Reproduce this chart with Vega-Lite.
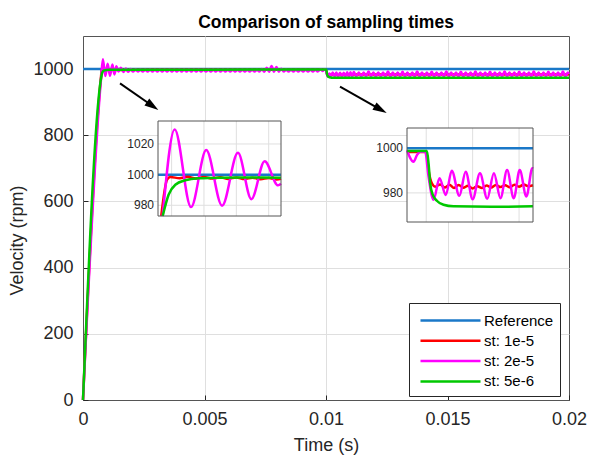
{
  "$schema": "https://vega.github.io/schema/vega-lite/v6.json",
  "width": 486,
  "height": 364,
  "autosize": {"type": "none"},
  "padding": {"left": 83, "top": 36, "right": 21, "bottom": 63},
  "background": "white",
  "config": {"font": "Liberation Sans", "view": {"stroke": "#555555", "strokeWidth": 1}},
  "title": {"text": "Comparison of sampling times", "fontSize": 17.5, "fontWeight": "bold", "color": "#000000", "anchor": "middle", "frame": "group", "offset": 5},
  "datasets": {
    "speed": [
      {"series": "Reference", "t": 0, "v": 1000},
      {"series": "Reference", "t": 0.000716, "v": 1000},
      {"series": "Reference", "t": 0.001476, "v": 1000},
      {"series": "Reference", "t": 0.009793, "v": 1000},
      {"series": "Reference", "t": 0.01115, "v": 1000},
      {"series": "Reference", "t": 0.02, "v": 1000},

      {"series": "st: 1e-5", "t": 0, "v": 0},
      {"series": "st: 1e-5", "t": 0.000736, "v": 973},
      {"series": "st: 1e-5", "t": 0.000772, "v": 996.7},
      {"series": "st: 1e-5", "t": 0.000792, "v": 998.5},
      {"series": "st: 1e-5", "t": 0.00085, "v": 997.6},
      {"series": "st: 1e-5", "t": 0.0009, "v": 998.6},
      {"series": "st: 1e-5", "t": 0.00095, "v": 997.5},
      {"series": "st: 1e-5", "t": 0.001, "v": 998.5},
      {"series": "st: 1e-5", "t": 0.00105, "v": 997.4},
      {"series": "st: 1e-5", "t": 0.0011, "v": 998.3},
      {"series": "st: 1e-5", "t": 0.00115, "v": 997.2},
      {"series": "st: 1e-5", "t": 0.0012, "v": 998.2},
      {"series": "st: 1e-5", "t": 0.00125, "v": 997.1},
      {"series": "st: 1e-5", "t": 0.0013, "v": 998.0},
      {"series": "st: 1e-5", "t": 0.00135, "v": 997.0},
      {"series": "st: 1e-5", "t": 0.0014, "v": 997.8},
      {"series": "st: 1e-5", "t": 0.00145, "v": 996.9},
      {"series": "st: 1e-5", "t": 0.001476, "v": 997.3},
      {"series": "st: 1e-5", "t": 0.005, "v": 998},
      {"series": "st: 1e-5", "t": 0.009793, "v": 998.3},
      {"series": "st: 1e-5", "t": 0.01, "v": 998.3},
      {"series": "st: 1e-5", "t": 0.010025, "v": 990.2},
      {"series": "st: 1e-5", "t": 0.010061, "v": 984.3},
      {"series": "st: 1e-5", "t": 0.010096, "v": 982.8},
      {"series": "st: 1e-5", "t": 0.01015, "v": 983.8},
      {"series": "st: 1e-5", "t": 0.0102, "v": 982.4},
      {"series": "st: 1e-5", "t": 0.01025, "v": 983.6},
      {"series": "st: 1e-5", "t": 0.0103, "v": 982.2},
      {"series": "st: 1e-5", "t": 0.01035, "v": 983.5},
      {"series": "st: 1e-5", "t": 0.0104, "v": 982.3},
      {"series": "st: 1e-5", "t": 0.01045, "v": 983.2},
      {"series": "st: 1e-5", "t": 0.0105, "v": 982.0},
      {"series": "st: 1e-5", "t": 0.01055, "v": 983.0},
      {"series": "st: 1e-5", "t": 0.0106, "v": 982.2},
      {"series": "st: 1e-5", "t": 0.01065, "v": 983.3},
      {"series": "st: 1e-5", "t": 0.0107, "v": 982.4},
      {"series": "st: 1e-5", "t": 0.01075, "v": 983.5},
      {"series": "st: 1e-5", "t": 0.0108, "v": 982.6},
      {"series": "st: 1e-5", "t": 0.01085, "v": 983.4},
      {"series": "st: 1e-5", "t": 0.0109, "v": 982.5},
      {"series": "st: 1e-5", "t": 0.01095, "v": 983.6},
      {"series": "st: 1e-5", "t": 0.011, "v": 982.8},
      {"series": "st: 1e-5", "t": 0.01105, "v": 983.7},
      {"series": "st: 1e-5", "t": 0.0111, "v": 983.0},
      {"series": "st: 1e-5", "t": 0.01115, "v": 983.4},
      {"series": "st: 1e-5", "t": 0.02, "v": 983.4},

      {"series": "st: 2e-5", "t": 0, "v": 0},
      {"series": "st: 2e-5", "t": 0.000745, "v": 973},
      {"series": "st: 2e-5", "t": 0.000819, "v": 1029.5},
      {"series": "st: 2e-5", "t": 0.00092, "v": 978.8},
      {"series": "st: 2e-5", "t": 0.001014, "v": 1016},
      {"series": "st: 2e-5", "t": 0.001112, "v": 979.7},
      {"series": "st: 2e-5", "t": 0.00121, "v": 1014.2},
      {"series": "st: 2e-5", "t": 0.001293, "v": 984},
      {"series": "st: 2e-5", "t": 0.001375, "v": 1008.7},
      {"series": "st: 2e-5", "t": 0.001458, "v": 993},
      {"series": "st: 2e-5", "t": 0.001476, "v": 994},
      {"series": "st: 2e-5", "t": 0.00156, "v": 1004},
      {"series": "st: 2e-5", "t": 0.00166, "v": 991},
      {"series": "st: 2e-5", "t": 0.00176, "v": 1002},
      {"series": "st: 2e-5", "t": 0.00186, "v": 992},
      {"series": "st: 2e-5", "t": 0.00196, "v": 1000.5},
      {"series": "st: 2e-5", "t": 0.00206, "v": 992.5},
      {"series": "st: 2e-5", "t": 0.00216, "v": 999},
      {"series": "st: 2e-5", "t": 0.00226, "v": 993},
      {"series": "st: 2e-5", "t": 0.00236, "v": 998},
      {"series": "st: 2e-5", "t": 0.00246, "v": 993},
      {"series": "st: 2e-5", "t": 0.00256, "v": 998},
      {"series": "st: 2e-5", "t": 0.00266, "v": 993},
      {"series": "st: 2e-5", "t": 0.00276, "v": 998},
      {"series": "st: 2e-5", "t": 0.00286, "v": 993},
      {"series": "st: 2e-5", "t": 0.00296, "v": 998},
      {"series": "st: 2e-5", "t": 0.00306, "v": 993},
      {"series": "st: 2e-5", "t": 0.00316, "v": 998},
      {"series": "st: 2e-5", "t": 0.00326, "v": 993},
      {"series": "st: 2e-5", "t": 0.00336, "v": 998},
      {"series": "st: 2e-5", "t": 0.00346, "v": 993},
      {"series": "st: 2e-5", "t": 0.00356, "v": 998},
      {"series": "st: 2e-5", "t": 0.00366, "v": 993},
      {"series": "st: 2e-5", "t": 0.00376, "v": 998},
      {"series": "st: 2e-5", "t": 0.00386, "v": 993},
      {"series": "st: 2e-5", "t": 0.00396, "v": 998},
      {"series": "st: 2e-5", "t": 0.00406, "v": 993},
      {"series": "st: 2e-5", "t": 0.00416, "v": 998},
      {"series": "st: 2e-5", "t": 0.00426, "v": 993},
      {"series": "st: 2e-5", "t": 0.00436, "v": 998},
      {"series": "st: 2e-5", "t": 0.00446, "v": 993},
      {"series": "st: 2e-5", "t": 0.00456, "v": 998},
      {"series": "st: 2e-5", "t": 0.00466, "v": 993},
      {"series": "st: 2e-5", "t": 0.00476, "v": 998},
      {"series": "st: 2e-5", "t": 0.00486, "v": 993},
      {"series": "st: 2e-5", "t": 0.00496, "v": 998},
      {"series": "st: 2e-5", "t": 0.00506, "v": 993},
      {"series": "st: 2e-5", "t": 0.00516, "v": 998},
      {"series": "st: 2e-5", "t": 0.00526, "v": 993},
      {"series": "st: 2e-5", "t": 0.00536, "v": 998},
      {"series": "st: 2e-5", "t": 0.00546, "v": 993},
      {"series": "st: 2e-5", "t": 0.00556, "v": 998},
      {"series": "st: 2e-5", "t": 0.00566, "v": 993},
      {"series": "st: 2e-5", "t": 0.00576, "v": 998},
      {"series": "st: 2e-5", "t": 0.00586, "v": 993},
      {"series": "st: 2e-5", "t": 0.00596, "v": 998},
      {"series": "st: 2e-5", "t": 0.00606, "v": 993},
      {"series": "st: 2e-5", "t": 0.00616, "v": 998},
      {"series": "st: 2e-5", "t": 0.00626, "v": 993},
      {"series": "st: 2e-5", "t": 0.00636, "v": 998},
      {"series": "st: 2e-5", "t": 0.00646, "v": 993},
      {"series": "st: 2e-5", "t": 0.00656, "v": 998},
      {"series": "st: 2e-5", "t": 0.00666, "v": 993},
      {"series": "st: 2e-5", "t": 0.00676, "v": 998},
      {"series": "st: 2e-5", "t": 0.00686, "v": 993},
      {"series": "st: 2e-5", "t": 0.00696, "v": 998},
      {"series": "st: 2e-5", "t": 0.00706, "v": 993},
      {"series": "st: 2e-5", "t": 0.00716, "v": 998},
      {"series": "st: 2e-5", "t": 0.00726, "v": 993},
      {"series": "st: 2e-5", "t": 0.00736, "v": 1000},
      {"series": "st: 2e-5", "t": 0.00746, "v": 992},
      {"series": "st: 2e-5", "t": 0.00756, "v": 1004},
      {"series": "st: 2e-5", "t": 0.00766, "v": 992},
      {"series": "st: 2e-5", "t": 0.00776, "v": 1009},
      {"series": "st: 2e-5", "t": 0.00786, "v": 992},
      {"series": "st: 2e-5", "t": 0.00796, "v": 1006},
      {"series": "st: 2e-5", "t": 0.00806, "v": 992},
      {"series": "st: 2e-5", "t": 0.00816, "v": 1001},
      {"series": "st: 2e-5", "t": 0.00826, "v": 993},
      {"series": "st: 2e-5", "t": 0.00836, "v": 998},
      {"series": "st: 2e-5", "t": 0.00846, "v": 993},
      {"series": "st: 2e-5", "t": 0.00856, "v": 998},
      {"series": "st: 2e-5", "t": 0.00866, "v": 993},
      {"series": "st: 2e-5", "t": 0.00876, "v": 998},
      {"series": "st: 2e-5", "t": 0.00886, "v": 993},
      {"series": "st: 2e-5", "t": 0.00896, "v": 998},
      {"series": "st: 2e-5", "t": 0.00906, "v": 993},
      {"series": "st: 2e-5", "t": 0.00916, "v": 998},
      {"series": "st: 2e-5", "t": 0.00926, "v": 993},
      {"series": "st: 2e-5", "t": 0.00936, "v": 998},
      {"series": "st: 2e-5", "t": 0.00946, "v": 993},
      {"series": "st: 2e-5", "t": 0.00956, "v": 998},
      {"series": "st: 2e-5", "t": 0.00966, "v": 993},
      {"series": "st: 2e-5", "t": 0.00976, "v": 998.5},
      {"series": "st: 2e-5", "t": 0.009793, "v": 999},
      {"series": "st: 2e-5", "t": 0.009864, "v": 993.9},
      {"series": "st: 2e-5", "t": 0.0099, "v": 996.9},
      {"series": "st: 2e-5", "t": 0.009936, "v": 998.4},
      {"series": "st: 2e-5", "t": 0.009989, "v": 998.4},
      {"series": "st: 2e-5", "t": 0.010025, "v": 987.3},
      {"series": "st: 2e-5", "t": 0.010079, "v": 976.9},
      {"series": "st: 2e-5", "t": 0.010143, "v": 986.5},
      {"series": "st: 2e-5", "t": 0.010211, "v": 979.1},
      {"series": "st: 2e-5", "t": 0.010275, "v": 989.9},
      {"series": "st: 2e-5", "t": 0.010357, "v": 978.7},
      {"series": "st: 2e-5", "t": 0.010425, "v": 989.5},
      {"series": "st: 2e-5", "t": 0.0105, "v": 977.2},
      {"series": "st: 2e-5", "t": 0.010579, "v": 988.8},
      {"series": "st: 2e-5", "t": 0.010657, "v": 977.4},
      {"series": "st: 2e-5", "t": 0.010729, "v": 988.8},
      {"series": "st: 2e-5", "t": 0.0108, "v": 977.6},
      {"series": "st: 2e-5", "t": 0.010871, "v": 990.2},
      {"series": "st: 2e-5", "t": 0.010943, "v": 977.6},
      {"series": "st: 2e-5", "t": 0.011007, "v": 990.2},
      {"series": "st: 2e-5", "t": 0.011079, "v": 978.4},
      {"series": "st: 2e-5", "t": 0.011143, "v": 991},
      {"series": "st: 2e-5", "t": 0.01115, "v": 990.8},
      {"series": "st: 2e-5", "t": 0.01125, "v": 978},
      {"series": "st: 2e-5", "t": 0.01135, "v": 990},
      {"series": "st: 2e-5", "t": 0.01145, "v": 977.5},
      {"series": "st: 2e-5", "t": 0.01155, "v": 989.5},
      {"series": "st: 2e-5", "t": 0.01165, "v": 978},
      {"series": "st: 2e-5", "t": 0.01175, "v": 993},
      {"series": "st: 2e-5", "t": 0.01185, "v": 978},
      {"series": "st: 2e-5", "t": 0.01195, "v": 990},
      {"series": "st: 2e-5", "t": 0.01205, "v": 977.5},
      {"series": "st: 2e-5", "t": 0.01215, "v": 990},
      {"series": "st: 2e-5", "t": 0.01225, "v": 978},
      {"series": "st: 2e-5", "t": 0.01235, "v": 989.5},
      {"series": "st: 2e-5", "t": 0.01245, "v": 978},
      {"series": "st: 2e-5", "t": 0.01255, "v": 993},
      {"series": "st: 2e-5", "t": 0.01265, "v": 977.5},
      {"series": "st: 2e-5", "t": 0.01275, "v": 990},
      {"series": "st: 2e-5", "t": 0.01285, "v": 978},
      {"series": "st: 2e-5", "t": 0.01295, "v": 990},
      {"series": "st: 2e-5", "t": 0.01305, "v": 978},
      {"series": "st: 2e-5", "t": 0.01315, "v": 992},
      {"series": "st: 2e-5", "t": 0.01325, "v": 977.5},
      {"series": "st: 2e-5", "t": 0.01335, "v": 990},
      {"series": "st: 2e-5", "t": 0.01345, "v": 978},
      {"series": "st: 2e-5", "t": 0.01355, "v": 989.5},
      {"series": "st: 2e-5", "t": 0.01365, "v": 978},
      {"series": "st: 2e-5", "t": 0.01375, "v": 993},
      {"series": "st: 2e-5", "t": 0.01385, "v": 977.5},
      {"series": "st: 2e-5", "t": 0.01395, "v": 990},
      {"series": "st: 2e-5", "t": 0.01405, "v": 978},
      {"series": "st: 2e-5", "t": 0.01415, "v": 990},
      {"series": "st: 2e-5", "t": 0.01425, "v": 978},
      {"series": "st: 2e-5", "t": 0.01435, "v": 992},
      {"series": "st: 2e-5", "t": 0.01445, "v": 977.5},
      {"series": "st: 2e-5", "t": 0.01455, "v": 990},
      {"series": "st: 2e-5", "t": 0.01465, "v": 978},
      {"series": "st: 2e-5", "t": 0.01475, "v": 989.5},
      {"series": "st: 2e-5", "t": 0.01485, "v": 978},
      {"series": "st: 2e-5", "t": 0.01495, "v": 993},
      {"series": "st: 2e-5", "t": 0.01505, "v": 977.5},
      {"series": "st: 2e-5", "t": 0.01515, "v": 990},
      {"series": "st: 2e-5", "t": 0.01525, "v": 978},
      {"series": "st: 2e-5", "t": 0.01535, "v": 990},
      {"series": "st: 2e-5", "t": 0.01545, "v": 978},
      {"series": "st: 2e-5", "t": 0.01555, "v": 992},
      {"series": "st: 2e-5", "t": 0.01565, "v": 977.5},
      {"series": "st: 2e-5", "t": 0.01575, "v": 990},
      {"series": "st: 2e-5", "t": 0.01585, "v": 978},
      {"series": "st: 2e-5", "t": 0.01595, "v": 989.5},
      {"series": "st: 2e-5", "t": 0.01605, "v": 978},
      {"series": "st: 2e-5", "t": 0.01615, "v": 993},
      {"series": "st: 2e-5", "t": 0.01625, "v": 977.5},
      {"series": "st: 2e-5", "t": 0.01635, "v": 990},
      {"series": "st: 2e-5", "t": 0.01645, "v": 978},
      {"series": "st: 2e-5", "t": 0.01655, "v": 990},
      {"series": "st: 2e-5", "t": 0.01665, "v": 978},
      {"series": "st: 2e-5", "t": 0.01675, "v": 992},
      {"series": "st: 2e-5", "t": 0.01685, "v": 977.5},
      {"series": "st: 2e-5", "t": 0.01695, "v": 990},
      {"series": "st: 2e-5", "t": 0.01705, "v": 978},
      {"series": "st: 2e-5", "t": 0.01715, "v": 989.5},
      {"series": "st: 2e-5", "t": 0.01725, "v": 978},
      {"series": "st: 2e-5", "t": 0.01735, "v": 993},
      {"series": "st: 2e-5", "t": 0.01745, "v": 977.5},
      {"series": "st: 2e-5", "t": 0.01755, "v": 990},
      {"series": "st: 2e-5", "t": 0.01765, "v": 978},
      {"series": "st: 2e-5", "t": 0.01775, "v": 990},
      {"series": "st: 2e-5", "t": 0.01785, "v": 978},
      {"series": "st: 2e-5", "t": 0.01795, "v": 992},
      {"series": "st: 2e-5", "t": 0.01805, "v": 977.5},
      {"series": "st: 2e-5", "t": 0.01815, "v": 990},
      {"series": "st: 2e-5", "t": 0.01825, "v": 978},
      {"series": "st: 2e-5", "t": 0.01835, "v": 989.5},
      {"series": "st: 2e-5", "t": 0.01845, "v": 978},
      {"series": "st: 2e-5", "t": 0.01855, "v": 993},
      {"series": "st: 2e-5", "t": 0.01865, "v": 977.5},
      {"series": "st: 2e-5", "t": 0.01875, "v": 990},
      {"series": "st: 2e-5", "t": 0.01885, "v": 978},
      {"series": "st: 2e-5", "t": 0.01895, "v": 990},
      {"series": "st: 2e-5", "t": 0.01905, "v": 978},
      {"series": "st: 2e-5", "t": 0.01915, "v": 992},
      {"series": "st: 2e-5", "t": 0.01925, "v": 977.5},
      {"series": "st: 2e-5", "t": 0.01935, "v": 990},
      {"series": "st: 2e-5", "t": 0.01945, "v": 978},
      {"series": "st: 2e-5", "t": 0.01955, "v": 989.5},
      {"series": "st: 2e-5", "t": 0.01965, "v": 978},
      {"series": "st: 2e-5", "t": 0.01975, "v": 993},
      {"series": "st: 2e-5", "t": 0.01985, "v": 977.5},
      {"series": "st: 2e-5", "t": 0.01995, "v": 990},
      {"series": "st: 2e-5", "t": 0.02, "v": 985},

      {"series": "st: 5e-6", "t": 0, "v": 0},
      {"series": "st: 5e-6", "t": 0.000745, "v": 973},
      {"series": "st: 5e-6", "t": 0.000782, "v": 987},
      {"series": "st: 5e-6", "t": 0.000823, "v": 993.4},
      {"series": "st: 5e-6", "t": 0.000885, "v": 996.3},
      {"series": "st: 5e-6", "t": 0.000967, "v": 997.6},
      {"series": "st: 5e-6", "t": 0.0011, "v": 998.0},
      {"series": "st: 5e-6", "t": 0.0013, "v": 998.1},
      {"series": "st: 5e-6", "t": 0.001476, "v": 998.0},
      {"series": "st: 5e-6", "t": 0.005, "v": 998.2},
      {"series": "st: 5e-6", "t": 0.009793, "v": 998.7},
      {"series": "st: 5e-6", "t": 0.010007, "v": 998.7},
      {"series": "st: 5e-6", "t": 0.010025, "v": 993.2},
      {"series": "st: 5e-6", "t": 0.010043, "v": 984.3},
      {"series": "st: 5e-6", "t": 0.010071, "v": 979.1},
      {"series": "st: 5e-6", "t": 0.010114, "v": 976.5},
      {"series": "st: 5e-6", "t": 0.010186, "v": 974.7},
      {"series": "st: 5e-6", "t": 0.010293, "v": 974.0},
      {"series": "st: 5e-6", "t": 0.0107, "v": 973.8},
      {"series": "st: 5e-6", "t": 0.01115, "v": 974.0},
      {"series": "st: 5e-6", "t": 0.02, "v": 974.0}
    ],
    "insets": [
      {"inset": 1, "t0": 0.000716, "t1": 0.001476, "v0": 973, "v1": 1035},
      {"inset": 2, "t0": 0.009793, "t1": 0.01115, "v0": 967, "v1": 1009}
    ],
    "insetgrid": [
      {"inset": 1, "t": 0.0008},
      {"inset": 1, "t": 0.001},
      {"inset": 1, "t": 0.0012},
      {"inset": 1, "t": 0.0014},
      {"inset": 2, "t": 0.01},
      {"inset": 2, "t": 0.0105},
      {"inset": 2, "t": 0.011}
    ],
    "insetlabels": [
      {"inset": 1, "v": 980},
      {"inset": 1, "v": 1000},
      {"inset": 1, "v": 1020},
      {"inset": 2, "v": 980},
      {"inset": 2, "v": 1000}
    ],
    "arrows": [
      {"id": 1, "t": 0.001523, "v": 957, "t2": 0.002864, "v2": 888.5},
      {"id": 2, "t": 0.010576, "v": 946.8, "t2": 0.012247, "v2": 877.6}
    ]
  },
  "layer": [
    {
      "layer": [
        {
          "data": {"name": "speed"},
          "mark": {"type": "line", "strokeWidth": 2.5, "interpolate": "monotone"},
          "encoding": {
            "x": {"field": "t", "type": "quantitative", "title": "Time (s)",
              "scale": {"domain": [0, 0.02], "nice": false, "zero": false},
              "axis": {"values": [0, 0.005, 0.01, 0.015, 0.02], "format": "~g", "labelFontSize": 18, "titleFontSize": 18, "titleFontWeight": "normal", "labelColor": "#262626", "titleColor": "#262626", "domain": false, "tickSize": -5, "tickColor": "#262626", "labelPadding": 15, "titlePadding": 8, "labelFlush": false, "labelOverlap": false, "grid": true, "gridColor": "#dfdfdf", "gridOpacity": {"condition": {"test": "datum.value === 0 || datum.value === 0.02", "value": 0}, "value": 1}}},
            "y": {"field": "v", "type": "quantitative", "title": "Velocity (rpm)",
              "scale": {"domain": [0, 1100], "nice": false, "zero": false},
              "axis": {"values": [0, 200, 400, 600, 800, 1000], "format": "d", "labelFontSize": 18, "titleFontSize": 18, "titleFontWeight": "normal", "labelColor": "#262626", "titleColor": "#262626", "domain": false, "tickSize": -5, "tickColor": "#262626", "labelPadding": 15, "titlePadding": 6, "titleY": 204, "labelOverlap": false, "grid": true, "gridColor": "#dfdfdf", "gridOpacity": {"condition": {"test": "datum.value === 0", "value": 0}, "value": 1}}},
            "color": {"field": "series", "type": "nominal",
              "scale": {"domain": ["Reference", "st: 1e-5", "st: 2e-5", "st: 5e-6"], "range": ["#1a78c8", "#ff0000", "#ff00ff", "#00c800"]},
              "legend": {"title": null, "orient": "none", "legendX": 326, "legendY": 267, "fillColor": "white", "strokeColor": "#262626", "padding": 6, "symbolType": "M-3,0H3", "symbolSize": 400, "symbolStrokeWidth": 2.5, "symbolOffset": 24, "labelOffset": 22, "labelFontSize": 15, "labelColor": "#000000", "rowPadding": 0.3, "labelLimit": 200}}
          }
        },
        {
          "data": {"name": "arrows"},
          "mark": {"type": "rule", "strokeWidth": 2, "color": "black"},
          "encoding": {
            "x": {"field": "t", "type": "quantitative", "title": "Time (s)"},
            "y": {"field": "v", "type": "quantitative", "title": "Velocity (rpm)"},
            "x2": {"field": "t2"},
            "y2": {"field": "v2"}
          }
        },
        {
          "data": {"name": "arrows"},
          "transform": [{"filter": "datum.id === 1"}],
          "mark": {"type": "point", "shape": "M-1,-0.6L1,0L-1,0.6Z", "size": 196, "filled": true, "color": "black", "opacity": 1, "angle": 34.9},
          "encoding": {
            "x": {"field": "t2", "type": "quantitative", "title": "Time (s)"},
            "y": {"field": "v2", "type": "quantitative", "title": "Velocity (rpm)"}
          }
        },
        {
          "data": {"name": "arrows"},
          "transform": [{"filter": "datum.id === 2"}],
          "mark": {"type": "point", "shape": "M-1,-0.6L1,0L-1,0.6Z", "size": 196, "filled": true, "color": "black", "opacity": 1, "angle": 29.4},
          "encoding": {
            "x": {"field": "t2", "type": "quantitative", "title": "Time (s)"},
            "y": {"field": "v2", "type": "quantitative", "title": "Velocity (rpm)"}
          }
        }
      ]
    },
    {
      "layer": [
        {
          "data": {"name": "insets"},
          "transform": [{"filter": "datum.inset === 1"}],
          "mark": {"type": "rect", "fill": "white", "stroke": null},
          "encoding": {
            "x": {"field": "t0", "type": "quantitative", "scale": {"domain": [0.000716, 0.001476], "range": [75, 198], "nice": false, "zero": false}, "axis": null},
            "x2": {"field": "t1"},
            "y": {"field": "v0", "type": "quantitative", "scale": {"domain": [973, 1035], "range": [180, 85], "nice": false, "zero": false}, "axis": null},
            "y2": {"field": "v1"}
          }
        },
        {
          "data": {"name": "insetgrid"},
          "transform": [{"filter": "datum.inset === 1"}],
          "mark": {"type": "rule", "color": "#dfdfdf", "strokeWidth": 1},
          "encoding": {
            "x": {"field": "t", "type": "quantitative", "axis": null},
            "y": {"datum": 973, "type": "quantitative", "axis": null},
            "y2": {"datum": 1035}
          }
        },
        {
          "data": {"name": "insetlabels"},
          "transform": [{"filter": "datum.inset === 1"}],
          "mark": {"type": "rule", "color": "#dfdfdf", "strokeWidth": 1},
          "encoding": {
            "y": {"field": "v", "type": "quantitative", "axis": null},
            "x": {"datum": 0.000716, "type": "quantitative", "axis": null},
            "x2": {"datum": 0.001476}
          }
        },
        {
          "data": {"name": "speed"},
          "transform": [{"filter": {"field": "t", "range": [0.000716, 0.001476]}}],
          "mark": {"type": "line", "strokeWidth": 2.5, "interpolate": "monotone"},
          "encoding": {
            "x": {"field": "t", "type": "quantitative", "axis": null},
            "y": {"field": "v", "type": "quantitative", "axis": null},
            "color": {"field": "series", "type": "nominal", "scale": {"domain": ["Reference", "st: 1e-5", "st: 2e-5", "st: 5e-6"], "range": ["#1a78c8", "#ff0000", "#ff00ff", "#00c800"]}, "legend": null}
          }
        },
        {
          "data": {"name": "insets"},
          "transform": [{"filter": "datum.inset === 1"}],
          "mark": {"type": "rect", "fill": null, "stroke": "#555555", "strokeWidth": 1},
          "encoding": {
            "x": {"field": "t0", "type": "quantitative", "axis": null},
            "x2": {"field": "t1"},
            "y": {"field": "v0", "type": "quantitative", "axis": null},
            "y2": {"field": "v1"}
          }
        },
        {
          "data": {"name": "insetlabels"},
          "transform": [{"filter": "datum.inset === 1"}],
          "mark": {"type": "text", "align": "right", "baseline": "middle", "dx": -4, "fontSize": 12, "color": "#262626"},
          "encoding": {
            "y": {"field": "v", "type": "quantitative", "axis": null},
            "x": {"datum": 0.000716, "type": "quantitative", "axis": null},
            "text": {"field": "v", "type": "quantitative", "format": "d"}
          }
        }
      ]
    },
    {
      "layer": [
        {
          "data": {"name": "insets"},
          "transform": [{"filter": "datum.inset === 2"}],
          "mark": {"type": "rect", "fill": "white", "stroke": null},
          "encoding": {
            "x": {"field": "t0", "type": "quantitative", "scale": {"domain": [0.009793, 0.01115], "range": [324, 450], "nice": false, "zero": false}, "axis": null},
            "x2": {"field": "t1"},
            "y": {"field": "v0", "type": "quantitative", "scale": {"domain": [967, 1009], "range": [186, 92], "nice": false, "zero": false}, "axis": null},
            "y2": {"field": "v1"}
          }
        },
        {
          "data": {"name": "insetgrid"},
          "transform": [{"filter": "datum.inset === 2"}],
          "mark": {"type": "rule", "color": "#dfdfdf", "strokeWidth": 1},
          "encoding": {
            "x": {"field": "t", "type": "quantitative", "axis": null},
            "y": {"datum": 967, "type": "quantitative", "axis": null},
            "y2": {"datum": 1009}
          }
        },
        {
          "data": {"name": "insetlabels"},
          "transform": [{"filter": "datum.inset === 2"}],
          "mark": {"type": "rule", "color": "#dfdfdf", "strokeWidth": 1},
          "encoding": {
            "y": {"field": "v", "type": "quantitative", "axis": null},
            "x": {"datum": 0.009793, "type": "quantitative", "axis": null},
            "x2": {"datum": 0.01115}
          }
        },
        {
          "data": {"name": "speed"},
          "transform": [{"filter": {"field": "t", "range": [0.009793, 0.01115]}}],
          "mark": {"type": "line", "strokeWidth": 2.5, "interpolate": "monotone"},
          "encoding": {
            "x": {"field": "t", "type": "quantitative", "axis": null},
            "y": {"field": "v", "type": "quantitative", "axis": null},
            "color": {"field": "series", "type": "nominal", "scale": {"domain": ["Reference", "st: 1e-5", "st: 2e-5", "st: 5e-6"], "range": ["#1a78c8", "#ff0000", "#ff00ff", "#00c800"]}, "legend": null}
          }
        },
        {
          "data": {"name": "insets"},
          "transform": [{"filter": "datum.inset === 2"}],
          "mark": {"type": "rect", "fill": null, "stroke": "#555555", "strokeWidth": 1},
          "encoding": {
            "x": {"field": "t0", "type": "quantitative", "axis": null},
            "x2": {"field": "t1"},
            "y": {"field": "v0", "type": "quantitative", "axis": null},
            "y2": {"field": "v1"}
          }
        },
        {
          "data": {"name": "insetlabels"},
          "transform": [{"filter": "datum.inset === 2"}],
          "mark": {"type": "text", "align": "right", "baseline": "middle", "dx": -4, "fontSize": 12, "color": "#262626"},
          "encoding": {
            "y": {"field": "v", "type": "quantitative", "axis": null},
            "x": {"datum": 0.009793, "type": "quantitative", "axis": null},
            "text": {"field": "v", "type": "quantitative", "format": "d"}
          }
        }
      ]
    }
  ],
  "resolve": {"scale": {"x": "independent", "y": "independent"}}
}
